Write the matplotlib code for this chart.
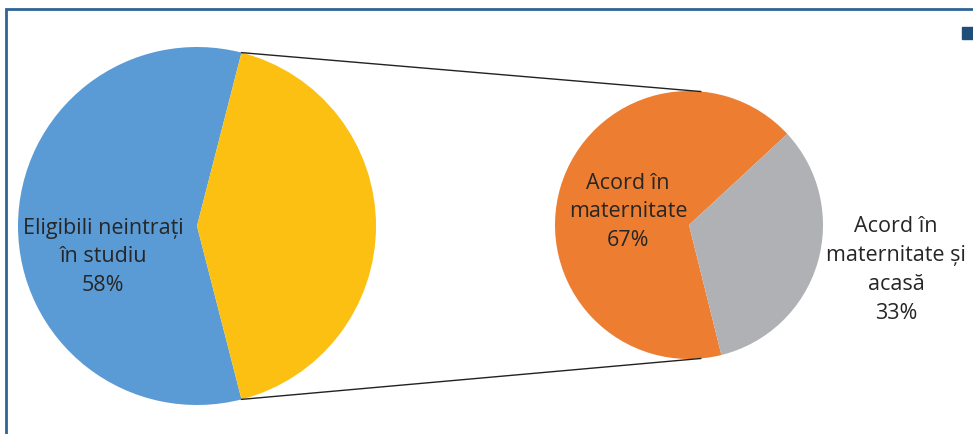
import numpy as np
import matplotlib.pyplot as plt
from matplotlib.patches import Rectangle

plt.rcParams['font.family'] = ['Open Sans', 'DejaVu Sans']

# main pie
main_labels = ["Eligibili neintrați\nîn studiu", ""]
main_values = [58, 42]
main_colors = ["#5b9bd5", "#fbc012"]

# secondary pie (split of the yellow slice)
sub_labels = ["Acord în\nmaternitate", "Acord în\nmaternitate și\nacasă"]
sub_values = [67, 33]
sub_colors = ["#ed7d31", "#b0b1b4"]

W, H = 973, 435
fig = plt.figure(figsize=(W / 100, H / 100), dpi=100)
ax = fig.add_axes([0, 0, 1, 1])

c1, r1 = (197, 208), 179
c2, r2 = (689, 209), 134

# yellow slice centred on the right side
yel_angle = main_values[1] / 100 * 360
ax.pie(main_values, colors=main_colors, center=c1, radius=r1,
       startangle=yel_angle / 2, counterclock=True, frame=True,
       wedgeprops=dict(linewidth=0))
gray_angle = sub_values[1] / 100 * 360
ax.pie(sub_values, colors=sub_colors, center=c2, radius=r2,
       startangle=-76 + gray_angle, counterclock=True, frame=True,
       wedgeprops=dict(linewidth=0))

# connector lines
a = np.deg2rad(yel_angle / 2)
p_top = (c1[0] + r1 * np.cos(a), c1[1] + r1 * np.sin(a))
p_bot = (c1[0] + r1 * np.cos(-a), c1[1] + r1 * np.sin(-a))
b = np.deg2rad(85)
q_top = (c2[0] + r2 * np.cos(b), c2[1] + r2 * np.sin(b))
q_bot = (c2[0] + r2 * np.cos(-b), c2[1] + r2 * np.sin(-b))
ax.plot([p_top[0], q_top[0]], [p_top[1], q_top[1]], color="#222222", lw=1.0)
ax.plot([p_bot[0], q_bot[0]], [p_bot[1], q_bot[1]], color="#222222", lw=1.0)

txt = dict(ha="center", va="center", fontsize=15.5, color="#262626", linespacing=1.48)
ax.text(103, 435 - 257, f"{main_labels[0]}\n{main_values[0]}%", **txt)
ax.text(628, 435 - 212, f"{sub_labels[0]}\n{sub_values[0]}%", **txt)
ax.text(896, 435 - 270, f"{sub_labels[1]}\n{sub_values[1]}%", **txt)

# frame and clipped legend marker
ax.add_patch(Rectangle((6, -20), 1000, 445, fill=False, edgecolor="#2e6496", lw=2))
ax.plot([968], [435 - 34], marker="s", ms=8, color="#1f4e79", linestyle="none")

ax.set_xlim(0, W)
ax.set_ylim(0, H)
ax.set_aspect("equal")
ax.axis("off")

plt.savefig("out.png", dpi=100)
